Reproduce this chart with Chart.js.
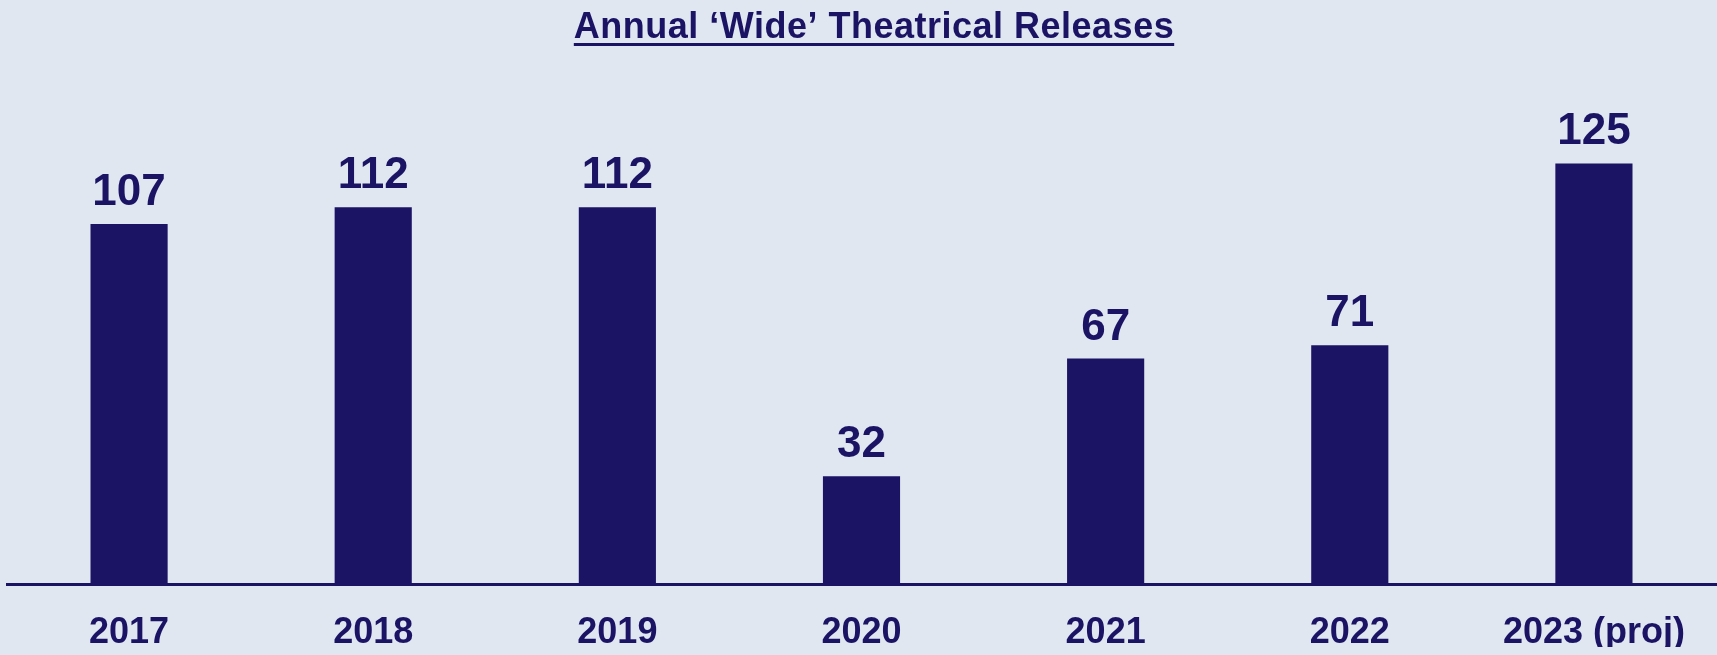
<!DOCTYPE html>
<html lang="en">
<head>
    <meta charset="UTF-8">
    <title>Annual 'Wide' Theatrical Releases</title>
    <style>
        body {
            margin: 0;
            background-color: #e1e7f1;
        }
        #wrap {
            width: 1717px;
            height: 655px;
        }
    </style>
    <script src="https://cdn.jsdelivr.net/npm/chart.js"></script>
</head>
<body>
    <div id="wrap"><canvas id="releasesChart"></canvas></div>
    <script>
        const titleText = 'Annual \u2018Wide\u2019 Theatrical Releases';
        const years = ['2017', '2018', '2019', '2020', '2021', '2022', '2023 (proj)'];
        const releases = [107, 112, 112, 32, 67, 71, 125];

        const navy = '#1b1464';
        const fontFamily = '"Liberation Sans", Arial, Helvetica, sans-serif';

        // title with underline, drawn by hand since Chart.js has no underline option
        const underlinedTitle = {
            id: 'underlinedTitle',
            afterDraw(chart) {
                const ctx = chart.ctx;
                ctx.save();
                ctx.font = 'bold 36px ' + fontFamily;
                ctx.letterSpacing = '0.5px';
                ctx.fillStyle = navy;
                ctx.textAlign = 'left';
                ctx.textBaseline = 'alphabetic';
                const w = ctx.measureText(titleText).width;
                const x0 = 874 - w / 2;
                ctx.fillText(titleText, x0, 38);
                ctx.fillRect(x0, 43, w, 3);
                ctx.restore();
            }
        };

        const valueLabels = {
            id: 'valueLabels',
            afterDatasetsDraw(chart) {
                const ctx = chart.ctx;
                const meta = chart.getDatasetMeta(0);
                ctx.save();
                ctx.font = 'bold 44px ' + fontFamily;
                ctx.fillStyle = navy;
                ctx.textAlign = 'center';
                ctx.textBaseline = 'alphabetic';
                meta.data.forEach((bar, i) => {
                    ctx.fillText(String(releases[i]), bar.x, bar.y - 19);
                });
                ctx.restore();
            }
        };

        const ctx = document.getElementById('releasesChart').getContext('2d');
        new Chart(ctx, {
            type: 'bar',
            data: {
                labels: years,
                datasets: [{
                    data: releases,
                    backgroundColor: navy,
                    borderWidth: 0,
                    barPercentage: 0.316,
                    categoryPercentage: 1
                }]
            },
            options: {
                responsive: true,
                maintainAspectRatio: false,
                animation: false,
                layout: {
                    padding: { top: 113, left: 7, right: 1, bottom: 8 }
                },
                plugins: {
                    legend: { display: false },
                    title: { display: false },
                    tooltip: { enabled: false }
                },
                scales: {
                    x: {
                        afterFit(scale) { scale.height = 63; },
                        grid: { display: false, drawTicks: false },
                        border: { display: true, color: navy, width: 3 },
                        ticks: {
                            color: navy,
                            padding: 31,
                            maxRotation: 0,
                            autoSkip: false,
                            font: { family: fontFamily, size: 36, weight: 'bold', lineHeight: 1 }
                        }
                    },
                    y: {
                        display: false,
                        min: 0,
                        max: 140
                    }
                }
            },
            plugins: [underlinedTitle, valueLabels]
        });
    </script>
</body>
</html>
